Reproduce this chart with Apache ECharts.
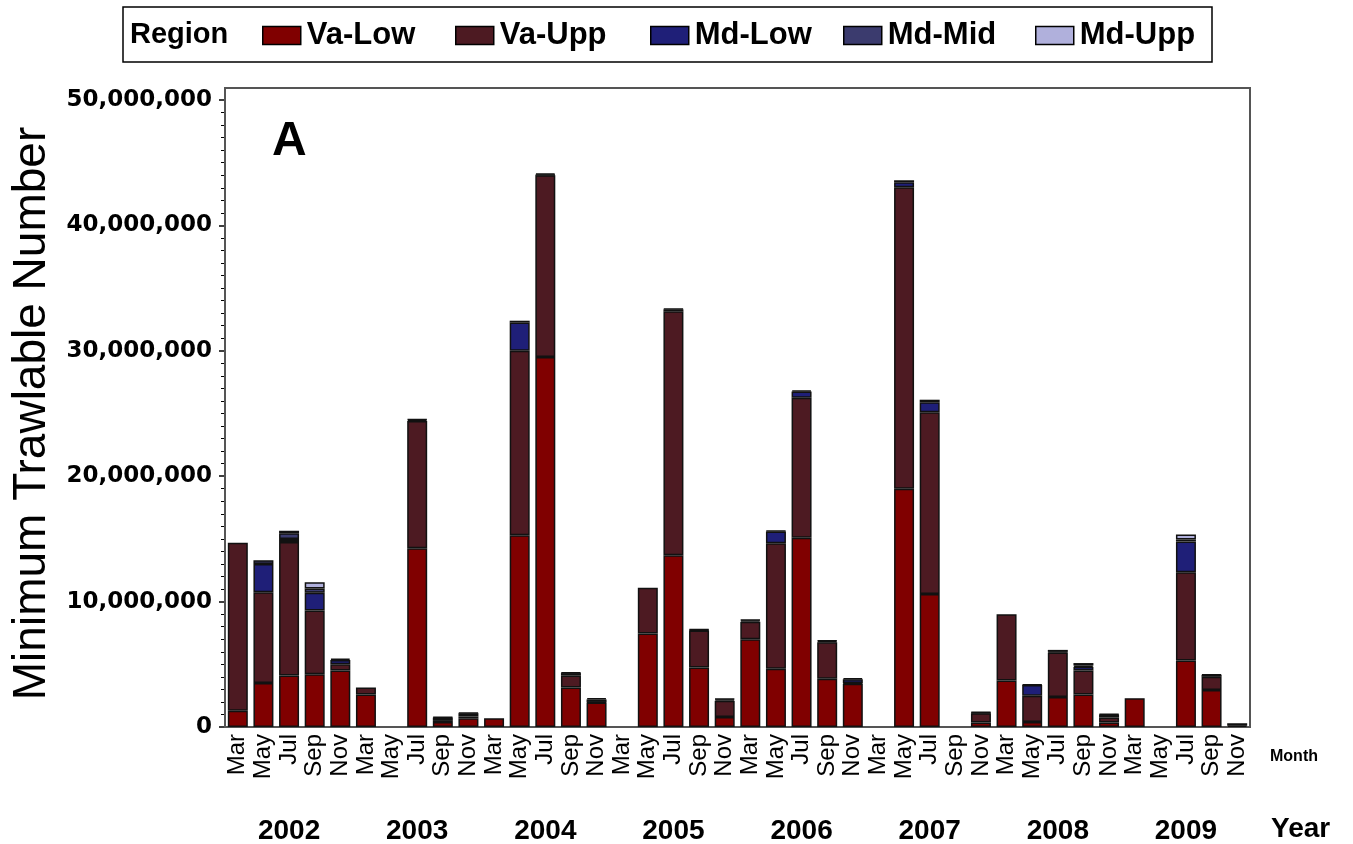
<!DOCTYPE html>
<html>
<head>
<meta charset="utf-8">
<title>Minimum Trawlable Number by Region</title>
<script src="https://cdn.jsdelivr.net/npm/echarts@6/dist/echarts.min.js"></script>
<style>
  html, body { margin: 0; padding: 0; background: #fff; }
  #chart { width: 1353px; height: 844px; }
</style>
</head>
<body>
<div id="chart"></div>
<script>
// Survey months (five per year) and years
const months = [
  'Mar','May','Jul','Sep','Nov', 'Mar','May','Jul','Sep','Nov',
  'Mar','May','Jul','Sep','Nov', 'Mar','May','Jul','Sep','Nov',
  'Mar','May','Jul','Sep','Nov', 'Mar','May','Jul','Sep','Nov',
  'Mar','May','Jul','Sep','Nov', 'Mar','May','Jul','Sep','Nov'
];
const years = ['2002','2003','2004','2005','2006','2007','2008','2009'];

// Minimum trawlable number per region, in millions (null = none)
const vaLow = [1.3,3.5,4.1,4.2,4.5, 2.6,null,14.25,0.4,0.7, 0.7,15.3,29.5,3.15,1.95, null,7.45,13.7,4.75,0.8,
               7.0,4.65,15.1,3.85,3.45, null,19.0,10.6,null,0.35, 3.7,0.4,2.4,2.6,0.35, 2.3,null,5.3,2.95,null];
const vaUpp = [13.4,7.25,10.65,5.1,0.5, 0.55,null,10.15,0.15,0.15, null,14.7,14.5,0.95,0.05, null,3.65,19.45,2.95,1.3,
               1.4,10.0,11.15,2.9,0.05, null,24.05,14.5,null,0.75, 5.3,2.1,3.55,1.9,0.4, null,null,7.05,1.05,null];
const mdLow = [null,2.25,0.25,1.4,0.35, null,null,0.1,0.2,0.25, null,2.25,0.05,0.2,0.2, null,null,0.15,0.05,0.1,
               0.1,0.95,0.5,0.1,0.3, null,0.4,0.8,null,0.05, null,0.85,null,0.3,0.25, null,null,2.45,0.15,0.1];
const mdMid = [null,0.3,0.45,0.35,0.1, null,null,0.05,0.05,0.05, null,0.15,0.1,0.05,0.1, null,null,0.05,0.05,0.05,
               0.05,0.05,0.1,0.05,0.1, null,0.15,0.2,null,0.05, null,0.05,0.05,0.1,0.05, null,null,0.15,0.05,0.2];
const mdUpp = [null,null,0.2,0.5,null, null,null,null,null,null, null,null,null,null,null, null,null,null,null,null,
               null,null,null,null,null, null,null,null,null,null, null,null,0.15,0.2,null, null,null,0.4,null,null];

const regions = ['Va-Low', 'Va-Upp', 'Md-Low', 'Md-Mid', 'Md-Upp'];
const regionValues = [vaLow, vaUpp, mdLow, mdMid, mdUpp];
const regionColors = ['#800000', '#4d1a22', '#1f1f78', '#3b3b6e', '#b0b0dc'];

const yTicks = [0, 10000000, 20000000, 30000000, 40000000, 50000000];

const FONT = 'Liberation Sans, Arial, sans-serif';
const chart = echarts.init(document.getElementById('chart'));

const series = regions.map((name, i) => ({
  name: name,
  type: 'bar',
  stack: 'total',
  xAxisIndex: 0,
  barCategoryGap: '22%',
  data: regionValues[i].map(v => (v == null ? null : v * 1e6)),
  itemStyle: {
    color: regionColors[i],
    borderColor: '#111',
    borderWidth: 1.5
  },
  emphasis: { disabled: true }
}));

// one legend entry per region, evenly spaced along the key
const legendLefts = [262, 455, 650, 843, 1035];
const legends = regions.map((name, i) => ({
  data: [name],
  left: legendLefts[i],
  top: 20,
  padding: 0,
  icon: 'rect',
  itemWidth: 38,
  itemHeight: 18,
  itemGap: 0,
  itemStyle: { borderColor: '#000', borderWidth: 1.5 },
  textStyle: { fontFamily: FONT, fontWeight: 'bold', fontSize: 31, color: '#000', padding: [0, 0, 0, 1] },
  selectedMode: false
}));

chart.setOption({
  animation: false,
  backgroundColor: '#fff',
  grid: { left: 225, right: 103, top: 100, bottom: 117, outerBoundsMode: 'none', containLabel: false },
  legend: legends,
  xAxis: [
    {
      type: 'category',
      data: months,
      position: 'bottom',
      axisLine: { lineStyle: { color: '#000', width: 2 } },
      axisTick: { show: false },
      axisLabel: {
        interval: 0,
        rotate: 90,
        margin: 7,
        color: '#000',
        fontSize: 24,
        fontFamily: FONT
      }
    },
    {
      type: 'category',
      data: years,
      position: 'bottom',
      offset: 90,
      axisLine: { show: false },
      axisTick: { show: false },
      axisLabel: {
        interval: 0,
        margin: 0,
        color: '#000',
        fontSize: 28,
        fontWeight: 'bold',
        fontFamily: FONT
      }
    }
  ],
  yAxis: {
    type: 'value',
    min: yTicks[0],
    max: yTicks[yTicks.length - 1],
    interval: yTicks[1] - yTicks[0],
    axisLine: { show: true, lineStyle: { color: '#000', width: 2 } },
    axisTick: { show: true, length: 6, lineStyle: { color: '#000', width: 1.5 } },
    minorTick: { show: true, splitNumber: 10, length: 4, lineStyle: { color: '#000', width: 1 } },
    splitLine: { show: false },
    axisLabel: {
      margin: 13,
      color: '#000',
      fontSize: 23,
      fontWeight: 'bold',
      fontFamily: 'DejaVu Sans, sans-serif',
      formatter: v => v.toLocaleString('en-US')
    },
    name: 'Minimum Trawlable Number',
    nameLocation: 'middle',
    nameGap: 168,
    nameTextStyle: { fontSize: 46, color: '#000', fontFamily: FONT }
  },
  graphic: [
    // legend frame
    { type: 'rect', shape: { x: 123, y: 7, width: 1089, height: 55 },
      style: { fill: 'none', stroke: '#000', lineWidth: 1.5 }, silent: true },
    { type: 'text', x: 130, y: 35,
      style: { text: 'Region', fill: '#000', fontSize: 29, fontWeight: 'bold',
               fontFamily: FONT, verticalAlign: 'middle' } },
    // plot frame
    { type: 'rect', shape: { x: 225, y: 88, width: 1025, height: 639 },
      style: { fill: 'none', stroke: '#555', lineWidth: 2 }, silent: true, z: 1 },
    { type: 'text', x: 272, y: 142,
      style: { text: 'A', fill: '#000', fontSize: 48, fontWeight: 'bold',
               fontFamily: FONT, verticalAlign: 'middle' } },
    { type: 'text', x: 1270, y: 757,
      style: { text: 'Month', fill: '#000', fontSize: 16, fontWeight: 'bold',
               fontFamily: FONT, verticalAlign: 'middle' } },
    { type: 'text', x: 1271, y: 829,
      style: { text: 'Year', fill: '#000', fontSize: 28, fontWeight: 'bold',
               fontFamily: FONT, verticalAlign: 'middle' } }
  ],
  series: series
});
</script>
</body>
</html>
